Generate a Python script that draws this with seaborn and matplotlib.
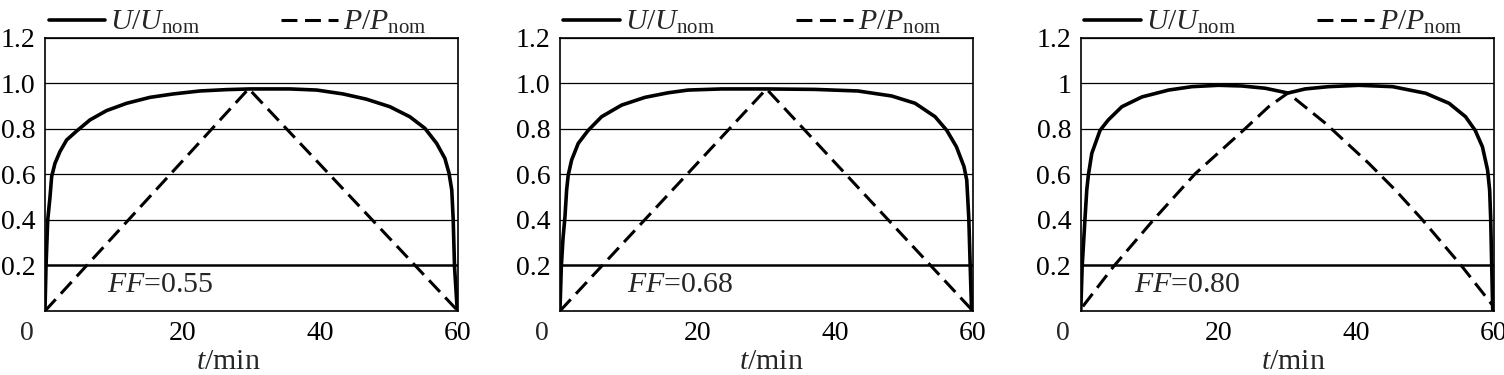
import numpy as np
import pandas as pd
import seaborn as sns
import matplotlib.pyplot as plt

# curves (t in min, values in p.u.)
t_u1 = [0, 0.15, 0.4, 0.73, 0.97, 1.45, 2.18, 3.15, 4.6, 6.54, 8.96, 11.87, 15.25, 18.64, 22.5, 26.4,
        29.8, 35.6, 39.5, 43.3, 46.7, 50.1, 53.0, 55.2, 56.9, 58.1, 58.7, 59.1, 59.3, 59.5, 59.9]
u1 = [0, 0.195, 0.40, 0.50, 0.59, 0.648, 0.70, 0.751, 0.79, 0.839, 0.88, 0.912, 0.938, 0.953, 0.966, 0.972,
      0.975, 0.975, 0.97, 0.953, 0.93, 0.897, 0.853, 0.802, 0.736, 0.67, 0.605, 0.531, 0.407, 0.195, 0]
t_p1 = [0, 29.6, 60]
p1 = [0, 0.976, 0]

t_u2 = [0, 0.2, 0.45, 0.73, 0.97, 1.2, 1.7, 2.66, 4.1, 6.05, 8.96, 12.35, 15.7, 18.6, 23.5, 30.0,
        37.0, 43.3, 48.2, 51.6, 54.5, 56.2, 57.6, 58.7, 59.1, 59.4, 59.6, 59.8]
u2 = [0, 0.195, 0.32, 0.414, 0.531, 0.596, 0.663, 0.736, 0.793, 0.853, 0.904, 0.938, 0.958, 0.97, 0.975, 0.975,
      0.973, 0.966, 0.944, 0.912, 0.853, 0.793, 0.721, 0.634, 0.575, 0.407, 0.2, 0]
t_p2 = [0, 30.0, 60]
p2 = [0, 0.975, 0]

t_u3 = [0, 0.2, 0.63, 0.87, 1.1, 1.6, 2.8, 4.0, 5.97, 8.9, 12.75, 16.15, 20.0, 23.4, 26.8, 30.1,
        32.6, 36.0, 40.4, 45.3, 50.1, 53.5, 55.9, 57.3, 58.35, 59.1, 59.4, 59.55, 59.7, 59.85]
u3 = [0, 0.195, 0.414, 0.531, 0.596, 0.692, 0.793, 0.839, 0.897, 0.94, 0.97, 0.985, 0.991, 0.988, 0.978, 0.957,
      0.975, 0.985, 0.991, 0.985, 0.956, 0.912, 0.853, 0.793, 0.721, 0.619, 0.531, 0.407, 0.2, 0]
t_p3 = [0.3, 4.75, 10.7, 16.6, 23.5, 27.3, 30.1, 35.55, 41.85, 45.7, 49.5, 55.4, 59.8]
p3 = [0.02, 0.195, 0.405, 0.602, 0.79, 0.897, 0.957, 0.824, 0.648, 0.531, 0.405, 0.195, 0.026]

ff_labels = ['0.55', '0.68', '0.80']
ff_pos = [9.0, 9.7, 7.7]
xticks = [0, 20, 40, 60]
yticks = [0.2, 0.4, 0.6, 0.8, 1.0, 1.2]
ylabels = [['0.2', '0.4', '0.6', '0.8', '1.0', '1.2'],
           ['0.2', '0.4', '0.6', '0.8', '1.0', '1.2'],
           ['0.2', '0.4', '0.6', '0.8', '1', '1.2']]
xlab_x = [0.445, 0.513, 0.515]

sns.set_theme(style='white')
plt.rcParams['font.family'] = ['Liberation Serif', 'DejaVu Serif']
plt.rcParams['mathtext.fontset'] = 'custom'
plt.rcParams['mathtext.rm'] = 'Liberation Serif'
plt.rcParams['mathtext.it'] = 'Liberation Serif:italic'
FS = 20
FS_BIG = 21.5

fig = plt.figure(figsize=(15.04, 3.75), dpi=100)
lefts = [0.0299, 0.3723, 0.7186]
panels = [(t_u1, u1, t_p1, p1), (t_u2, u2, t_p2, p2), (t_u3, u3, t_p3, p3)]

for i, (tu, u, tp, p) in enumerate(panels):
    ax = fig.add_axes([lefts[i], 0.1707, 0.2746, 0.7288])
    du = pd.DataFrame({'t': tu, 'v': u})
    dp = pd.DataFrame({'t': tp, 'v': p})
    sns.lineplot(data=du, x='t', y='v', ax=ax, color='black', lw=2.6,
                 label=r'$U/U_{\rm nom}$', solid_joinstyle='round')
    sns.lineplot(data=dp, x='t', y='v', ax=ax, color='black', lw=2.2,
                 linestyle=(0, (5.2, 2.5)), label=r'$P/P_{\rm nom}$')

    ax.set_xlim(0, 60)
    ax.set_ylim(0, 1.2)
    ax.set_xticks(xticks)
    ax.set_xticklabels(['', '20', '40', '60'], fontsize=FS)
    ax.set_yticks(yticks)
    ax.set_yticklabels(ylabels[i], fontsize=FS)
    ax.tick_params(axis='x', direction='in', length=7, width=1, pad=7, colors='black', top=False)
    ax.tick_params(axis='y', length=0, pad=7, colors='black')
    ax.annotate('0', xy=(0, 0), xycoords='axes fraction', xytext=(-13, -7),
                textcoords='offset points', ha='center', va='top', fontsize=FS)
    ax.grid(axis='y', color='black', lw=0.9)
    ax.yaxis.get_gridlines()[0].set_linewidth(1.8)
    for s in ax.spines.values():
        s.set_color('black')
        s.set_linewidth(1.2)

    ax.set_xlabel(r'$t$/min', fontsize=FS_BIG)
    ax.set_ylabel('')
    ax.xaxis.set_label_coords(xlab_x[i], -0.14)
    ax.text(ff_pos[i], 0.114, r'$FF$=' + ff_labels[i], fontsize=FS_BIG, va='center', ha='left')

    ax.legend(loc='lower left', bbox_to_anchor=(0.005, 1.0), ncol=2, frameon=False,
              fontsize=FS_BIG, handlelength=1.9, handletextpad=0.17, columnspacing=2.7,
              borderpad=0, borderaxespad=0.05)

fig.savefig('out.png', dpi=100)
